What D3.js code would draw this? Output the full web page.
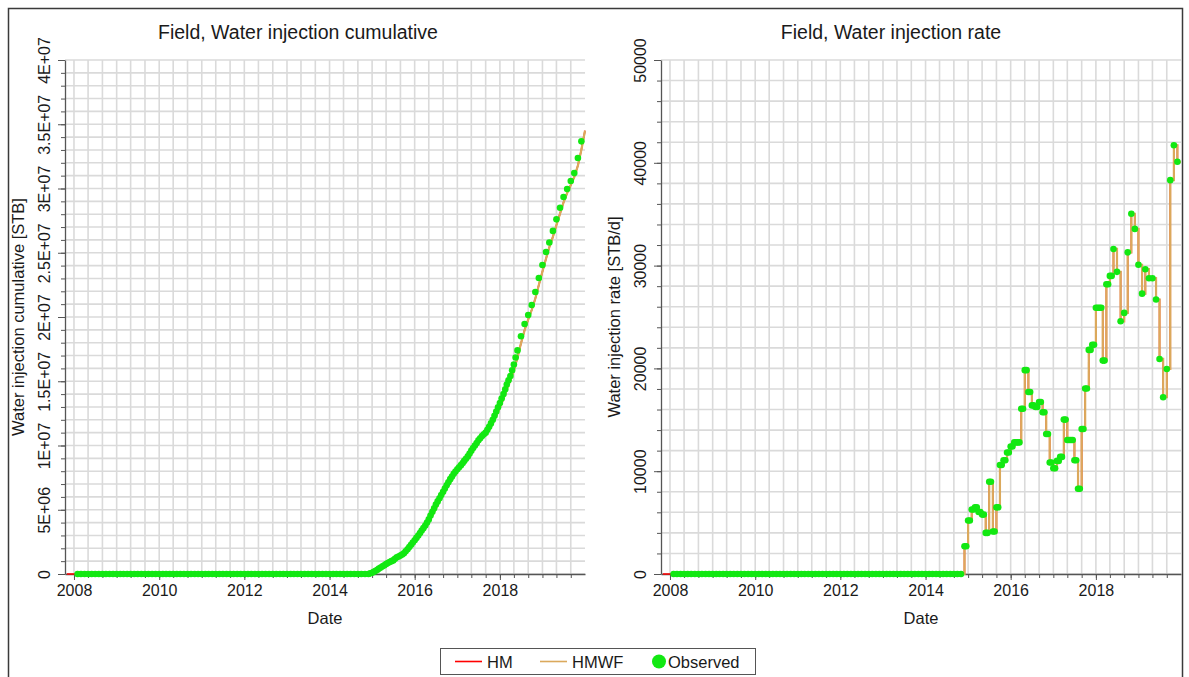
<!DOCTYPE html>
<html lang="en">
<head>
<meta charset="UTF-8">
<title>Field, Water injection</title>
<script src="https://cdn.jsdelivr.net/npm/d3@7"></script>
<style>
    body {
        margin: 0;
        background: #fff;
    }
    svg text {
        font-family: "Liberation Sans", Arial, sans-serif;
        fill: #1a1a1a;
    }
</style>
</head>
<body>
<svg id="chart" width="1189" height="677"></svg>
<script>
    // ---- data ----
    const seriesNames = ["HM", "HMWF", "Observed"];
    const seriesColors = ["#ff0000", "#dba95c", "#12e812"];

    const yearTicks = [2008, 2010, 2012, 2014, 2016, 2018];
    const cumTicks = [0, 5e6, 1e7, 1.5e7, 2e7, 2.5e7, 3e7, 3.5e7, 4e7];
    const rateTicks = [0, 10000, 20000, 30000, 40000, 50000];

    // observed: first of each month, Feb 2008 .. Dec 2019
    const obsMonths = d3.timeMonth.range(new Date(2008, 1, 1), new Date(2020, 0, 1));
    // extra mid-month observations, Dec 2014 .. May 2018
    const obsMidMonths = d3.timeMonth.range(new Date(2014, 11, 1), new Date(2018, 5, 1))
        .map(d => d3.timeDay.offset(d, 15));
    // simulated: monthly, Nov 2007 .. Jan 2020
    const simMonths = d3.timeMonth.range(new Date(2007, 10, 1), new Date(2020, 0, 2));

    // observed water injection rate [STB/d]
    const obsRate = [
        0, 0, 0, 0, 0, 0, 0, 0, 0, 0, 0,                 // 2008 Feb-Dec
        0, 0, 0, 0, 0, 0, 0, 0, 0, 0, 0, 0,              // 2009
        0, 0, 0, 0, 0, 0, 0, 0, 0, 0, 0, 0,              // 2010
        0, 0, 0, 0, 0, 0, 0, 0, 0, 0, 0, 0,              // 2011
        0, 0, 0, 0, 0, 0, 0, 0, 0, 0, 0, 0,              // 2012
        0, 0, 0, 0, 0, 0, 0, 0, 0, 0, 0, 0,              // 2013
        0, 0, 0, 0, 0, 0, 0, 0, 0, 0, 0, 2700,           // 2014
        5200, 6270, 6490, 6030, 5780, 4000, 8980, 4140, 6490, 10610, 11070, 11820,
        12410, 12800, 12800, 16070, 19830, 17700, 16400, 16240, 16730, 15740, 13620, 10840,
        10280, 11000, 11390, 15020, 13030, 13030, 11070, 8290, 14100, 18040, 21800, 22300,
        25900, 25900, 20760, 28180, 29000, 31620, 29390, 24580, 25400, 31290, 35040, 33570,
        30080, 27270, 29650, 28770, 28770, 26700, 20920, 17200, 19940, 38310, 41700, 40100
    ];
    const obsRateMid = [
        2700,
        5200, 6270, 6490, 6030, 5780, 4000, 8980, 4140, 6490, 10610, 11070, 11820,
        12410, 12800, 12800, 16070, 19830, 17700, 16400, 16240, 16730, 15740, 13620, 10840,
        10280, 11000, 11390, 15020, 13030, 13030, 11070, 8290, 14100, 18040, 21800, 22300,
        25900, 25900, 20760, 28180, 29000
    ];
    // simulated rate follows the observed one (Nov 2007 .. Jan 2020)
    const simRate = [0, 0, 0].concat(obsRate, [40100]);

    // observed cumulative [million STB]
    const obsCum = [
        0, 0, 0, 0, 0, 0, 0, 0, 0, 0, 0,                 // 2008 Feb-Dec
        0, 0, 0, 0, 0, 0, 0, 0, 0, 0, 0, 0,              // 2009
        0, 0, 0, 0, 0, 0, 0, 0, 0, 0, 0, 0,              // 2010
        0, 0, 0, 0, 0, 0, 0, 0, 0, 0, 0, 0,              // 2011
        0, 0, 0, 0, 0, 0, 0, 0, 0, 0, 0, 0,              // 2012
        0, 0, 0, 0, 0, 0, 0, 0, 0, 0, 0, 0,              // 2013
        0, 0, 0, 0, 0, 0, 0, 0, 0, 0, 0, 0,              // 2014
        0.1, 0.25, 0.42, 0.6, 0.77, 0.93, 1.06, 1.3, 1.43, 1.62, 1.93, 2.27,
        2.63, 3.0, 3.38, 3.77, 4.25, 4.85, 5.4, 5.9, 6.4, 6.9, 7.38, 7.8,
        8.15, 8.47, 8.8, 9.15, 9.6, 10.0, 10.4, 10.74, 11.0, 11.45, 12.0, 12.65,
        13.3, 14.0, 14.75, 15.4, 16.3, 17.4, 18.5, 19.46, 20.16, 20.93, 21.95, 23.03,
        24.05, 25.06, 25.8, 26.7, 27.6, 28.5, 29.34, 29.96, 30.58, 31.2, 32.37, 33.67
    ];
    const obsCumMid = [
        0.05,
        0.17, 0.33, 0.51, 0.68, 0.85, 1.0, 1.18, 1.36, 1.52, 1.77, 2.1, 2.45,
        2.81, 3.19, 3.57, 4.0, 4.55, 5.12, 5.65, 6.15, 6.65, 7.14, 7.59, 7.97,
        8.31, 8.63, 8.97, 9.37, 9.8, 10.2, 10.57, 10.87, 11.22, 11.72, 12.32, 12.97,
        13.65, 14.37, 15.07, 15.85, 16.85
    ];
    // simulated cumulative [million STB] (Nov 2007 .. Jan 2020)
    const simCum = [
        0, 0,                                            // 2007 Nov-Dec
        0, 0, 0, 0, 0, 0, 0, 0, 0, 0, 0, 0,              // 2008
        0, 0, 0, 0, 0, 0, 0, 0, 0, 0, 0, 0,              // 2009
        0, 0, 0, 0, 0, 0, 0, 0, 0, 0, 0, 0,              // 2010
        0, 0, 0, 0, 0, 0, 0, 0, 0, 0, 0, 0,              // 2011
        0, 0, 0, 0, 0, 0, 0, 0, 0, 0, 0, 0,              // 2012
        0, 0, 0, 0, 0, 0, 0, 0, 0, 0, 0, 0,              // 2013
        0, 0, 0, 0, 0, 0, 0, 0, 0, 0, 0, 0,              // 2014
        0.03, 0.17, 0.33, 0.5, 0.68, 0.85, 0.99, 1.17, 1.36, 1.52, 1.77, 2.1,
        2.45, 2.8, 3.18, 3.57, 4.0, 4.55, 5.1, 5.65, 6.15, 6.65, 7.14, 7.6,
        7.97, 8.3, 8.63, 8.97, 9.37, 9.8, 10.2, 10.57, 10.87, 11.22, 11.72, 12.32,
        12.97, 13.65, 14.37, 15.07, 15.85, 16.85, 17.95, 18.98, 19.81, 20.55, 21.44, 22.49,
        23.54, 24.55, 25.43, 26.25, 27.15, 28.05, 28.92, 29.65, 30.27, 30.89, 31.78, 33.02,
        34.5
    ];

    // ---- drawing ----
    const svg = d3.select("#chart");
    const plotTop = 60, plotBottom = 574, plotW = 520;
    const xStart = new Date(2007, 9, 16), xEnd = new Date(2020, 0, 1);

    // outer frame
    svg.append("rect")
        .attr("x", 8.5).attr("y", 8.5)
        .attr("width", 1174).attr("height", 700)
        .attr("fill", "none")
        .attr("stroke", "#3a3a3a")
        .attr("stroke-width", 1.5);

    function sci(v) {
        if (v === 0) return "0";
        const e = Math.floor(Math.log10(v));
        const m = +(v / Math.pow(10, e)).toFixed(2);
        return m + "E+" + String(e).padStart(2, "0");
    }

    function panel(o) {
        const x = d3.scaleTime().domain([xStart, xEnd]).range([o.left, o.left + plotW]);
        const y = d3.scaleLinear().domain([0, o.yMax]).range([plotBottom, plotTop]);
        const g = svg.append("g");

        // grid
        const grid = g.append("g")
            .attr("stroke", "#dadada")
            .attr("stroke-width", 1.6);
        grid.selectAll("line.v")
            .data(d3.timeMonth.every(4).range(xStart, xEnd))
            .enter().append("line")
            .attr("class", "v")
            .attr("x1", d => x(d)).attr("x2", d => x(d))
            .attr("y1", plotTop).attr("y2", plotBottom);
        grid.selectAll("line.h")
            .data(d3.range(0, o.yMax + 1, o.yMinor))
            .enter().append("line")
            .attr("class", "h")
            .attr("x1", o.left).attr("x2", o.left + plotW)
            .attr("y1", d => y(d)).attr("y2", d => y(d));

        // x axis: minor ticks then labelled ticks
        g.append("g")
            .attr("transform", "translate(0," + plotBottom + ")")
            .call(d3.axisBottom(x)
                .tickValues(d3.timeMonth.every(4).range(xStart, xEnd))
                .tickSize(4).tickSizeOuter(0).tickFormat(""))
            .call(s => s.select(".domain").attr("stroke", "#555").attr("stroke-width", 1.3))
            .call(s => s.selectAll(".tick line").attr("stroke", "#555"));
        g.append("g")
            .attr("transform", "translate(0," + plotBottom + ")")
            .call(d3.axisBottom(x)
                .tickValues(yearTicks.map(t => new Date(t, 0, 1)))
                .tickSize(6).tickSizeOuter(0).tickFormat(d3.timeFormat("%Y")))
            .call(s => s.select(".domain").remove())
            .call(s => s.selectAll(".tick line").attr("stroke", "#555"))
            .call(s => s.selectAll(".tick text")
                .attr("y", 8).attr("dy", "0.9em")
                .style("font-size", "16px")
                .style("font-family", "'Liberation Sans', Arial, sans-serif")
                .attr("fill", "#1a1a1a"));

        // y axis: minor ticks then labelled ticks (rotated labels)
        g.append("g")
            .attr("transform", "translate(" + o.left + ",0)")
            .call(d3.axisLeft(y)
                .tickValues(d3.range(0, o.yMax + 1, o.yMinor))
                .tickSize(4).tickSizeOuter(0).tickFormat(""))
            .call(s => s.select(".domain").attr("stroke", "#555").attr("stroke-width", 1.3))
            .call(s => s.selectAll(".tick line").attr("stroke", "#555"));
        g.append("g")
            .attr("transform", "translate(" + o.left + ",0)")
            .call(d3.axisLeft(y)
                .tickValues(o.yTicks)
                .tickSize(7).tickSizeOuter(0).tickFormat(o.yFormat))
            .call(s => s.select(".domain").remove())
            .call(s => s.selectAll(".tick line").attr("stroke", "#555"))
            .call(s => s.selectAll(".tick text")
                .attr("transform", "rotate(-90)")
                .attr("x", 0).attr("y", -15).attr("dy", 0)
                .attr("text-anchor", "middle")
                .style("font-size", "16px")
                .style("font-family", "'Liberation Sans', Arial, sans-serif")
                .attr("fill", "#1a1a1a"));

        // titles
        g.append("text")
            .attr("x", o.titleX).attr("y", 39)
            .attr("text-anchor", "middle")
            .style("font-size", "19.5px")
            .text(o.title);
        g.append("text")
            .attr("transform", "translate(" + (o.left - 41) + "," + ((plotTop + plotBottom) / 2) + ") rotate(-90)")
            .attr("text-anchor", "middle")
            .style("font-size", "16.5px")
            .text(o.yTitle);
        g.append("text")
            .attr("x", o.left + plotW / 2).attr("y", 624)
            .attr("text-anchor", "middle")
            .style("font-size", "16.5px")
            .text("Date");

        // series
        const line = d3.line()
            .x(d => x(d.date))
            .y(d => y(d.v))
            .curve(o.curve);
        const sim = simMonths.map((d, i) => ({date: d, v: o.sim[i]}));
        const obs = obsMonths.map((d, i) => ({date: d, v: o.obs[i]}))
            .concat(obsMidMonths.map((d, i) => ({date: d, v: o.obsMid[i]})));

        g.append("path")
            .datum(sim)
            .attr("fill", "none")
            .attr("stroke", seriesColors[0])
            .attr("stroke-width", 1.6)
            .attr("d", line);
        g.append("path")
            .datum(sim.filter(d => d.date >= obsMonths[0]))
            .attr("fill", "none")
            .attr("stroke", seriesColors[1])
            .attr("stroke-width", 2.2)
            .attr("d", line);
        g.append("g")
            .selectAll("circle")
            .data(obs)
            .enter().append("circle")
            .attr("cx", d => x(d.date))
            .attr("cy", d => y(d.v))
            .attr("r", 3.3)
            .attr("fill", seriesColors[2]);
    }

    panel({
        left: 65,
        titleX: 298,
        title: "Field, Water injection cumulative",
        yTitle: "Water injection cumulative [STB]",
        yMax: 4e7,
        yMinor: 1e6,
        yTicks: cumTicks,
        yFormat: sci,
        curve: d3.curveLinear,
        sim: simCum.map(v => v * 1e6),
        obs: obsCum.map(v => v * 1e6),
        obsMid: obsCumMid.map(v => v * 1e6)
    });

    panel({
        left: 661,
        titleX: 891,
        title: "Field, Water injection rate",
        yTitle: "Water injection rate [STB/d]",
        yMax: 50000,
        yMinor: 2000,
        yTicks: rateTicks,
        yFormat: d3.format("d"),
        curve: d3.curveStepAfter,
        sim: simRate,
        obs: obsRate,
        obsMid: obsRateMid
    });

    // legend
    const legend = svg.append("g");
    legend.append("rect")
        .attr("x", 440.5).attr("y", 648.5)
        .attr("width", 315).attr("height", 26)
        .attr("fill", "#fff")
        .attr("stroke", "#555");
    const items = legend.selectAll("g.item")
        .data(seriesNames)
        .enter().append("g")
        .attr("class", "item")
        .attr("transform", (d, i) => "translate(" + [455, 540, 652][i] + ",661.5)");
    items.filter((d, i) => i < 2).append("line")
        .attr("x1", 0).attr("x2", 27)
        .attr("stroke", (d, i) => seriesColors[i])
        .attr("stroke-width", 1.6);
    items.filter((d, i) => i === 2).append("circle")
        .attr("cx", 7).attr("r", 7)
        .attr("fill", seriesColors[2]);
    items.append("text")
        .attr("x", (d, i) => i < 2 ? 32 : 16)
        .attr("y", 6)
        .style("font-size", "16.5px")
        .text(d => d);
</script>
</body>
</html>
